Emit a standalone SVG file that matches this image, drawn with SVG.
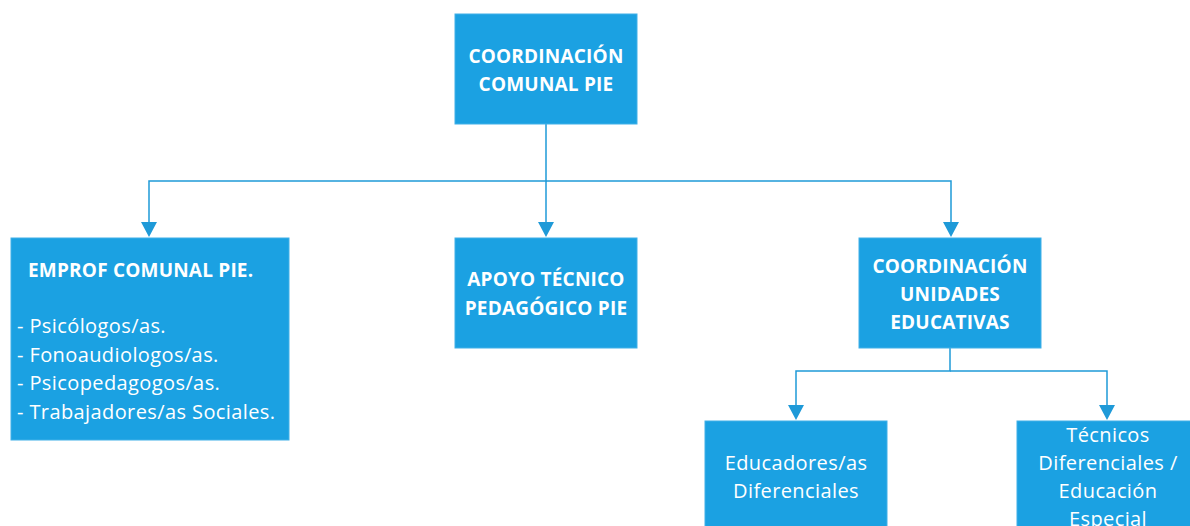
<svg xmlns="http://www.w3.org/2000/svg" width="1190" height="526" viewBox="0 0 1190 526">
<defs>
<style>
.box{fill:#1ba1e2;stroke:#41b0e8;stroke-width:1}
.t{font-family:"Open Sans","Liberation Sans",sans-serif;fill:#ffffff;font-size:20px;letter-spacing:0.4px}
.b{font-weight:bold;font-size:19px;letter-spacing:0.2px}
.c{text-anchor:middle}
.ln{fill:none;stroke:#1f9ad8;stroke-width:1.5}
.ah{fill:#1f9ad8}
</style>
</defs>
<rect width="1190" height="526" fill="#ffffff"/>
<g id="connectors">
<path class="ln" d="M546,124 V181 H149 V223"/>
<path class="ln" d="M546,181 V223"/>
<path class="ln" d="M546,181 H951 V223"/>
<path class="ln" d="M950,348 V371 H796 V406"/>
<path class="ln" d="M950,371 H1107 V406"/>
<path class="ah" d="M141,222 L157,222 L149,237 Z"/>
<path class="ah" d="M538,222 L554,222 L546,237 Z"/>
<path class="ah" d="M943,222 L959,222 L951,237 Z"/>
<path class="ah" d="M788,405 L804,405 L796,420 Z"/>
<path class="ah" d="M1099,405 L1115,405 L1107,420 Z"/>
</g>
<g id="coordinacion-comunal">
<rect class="box" x="455" y="14" width="182" height="110"/>
<text class="t b c" x="546" y="63">COORDINACIÓN</text>
<text class="t b c" x="546" y="91">COMUNAL PIE</text>
</g>
<g id="emprof">
<rect class="box" x="11" y="238" width="278" height="202"/>
<text class="t b" x="28" y="277">EMPROF COMUNAL PIE.</text>
<text class="t" x="17" y="333">- Psicólogos/as.</text>
<text class="t" x="17" y="362">- Fonoaudiologos/as.</text>
<text class="t" x="17" y="390">- Psicopedagogos/as.</text>
<text class="t" x="17" y="419">- Trabajadores/as Sociales.</text>
</g>
<g id="apoyo">
<rect class="box" x="455" y="238" width="182" height="110"/>
<text class="t b c" x="546" y="286">APOYO TÉCNICO</text>
<text class="t b c" x="546" y="315">PEDAGÓGICO PIE</text>
</g>
<g id="coordinacion-unidades">
<rect class="box" x="859" y="238" width="182" height="110"/>
<text class="t b c" x="950" y="273">COORDINACIÓN</text>
<text class="t b c" x="950" y="301">UNIDADES</text>
<text class="t b c" x="950" y="329">EDUCATIVAS</text>
</g>
<g id="educadores">
<rect class="box" x="705" y="421" width="182" height="110"/>
<text class="t c" x="796" y="470">Educadores/as</text>
<text class="t c" x="796" y="498">Diferenciales</text>
</g>
<g id="tecnicos">
<rect class="box" x="1017" y="421" width="182" height="110"/>
<text class="t c" x="1108" y="442">Técnicos</text>
<text class="t c" x="1108" y="470">Diferenciales /</text>
<text class="t c" x="1108" y="498">Educación</text>
<text class="t c" x="1108" y="526">Especial</text>
</g>
</svg>
